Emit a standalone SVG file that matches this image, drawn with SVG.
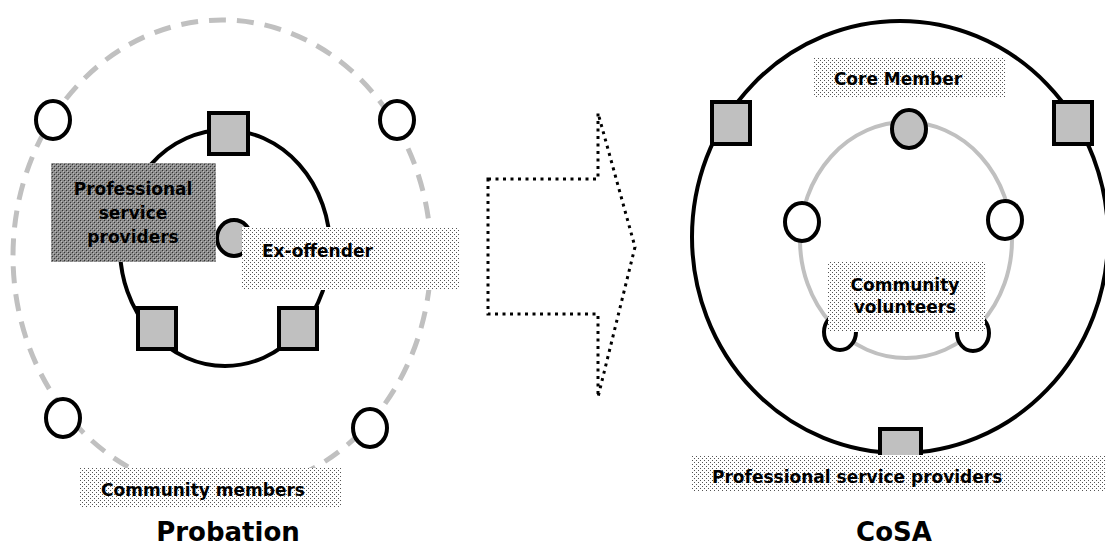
<svg xmlns="http://www.w3.org/2000/svg" width="1105" height="545" viewBox="0 0 1105 545">
<defs>
<pattern id="light" width="4" height="4" patternUnits="userSpaceOnUse">
<rect width="4" height="4" fill="#ffffff"/>
<rect x="0" y="0" width="1" height="1" fill="#555"/>
<rect x="2" y="2" width="1" height="1" fill="#555"/>
</pattern>
<pattern id="dark" width="4" height="4" patternUnits="userSpaceOnUse">
<rect width="4" height="4" fill="#8c8c8c"/>
<rect x="0" y="0" width="1" height="1" fill="#333"/>
<rect x="2" y="2" width="1" height="1" fill="#333"/>
<rect x="1" y="1" width="1" height="1" fill="#bbb"/>
<rect x="3" y="3" width="1" height="1" fill="#bbb"/>
</pattern>
<style>
.t{font-family:"DejaVu Sans","Liberation Sans",sans-serif;font-weight:bold;font-size:17px;fill:#000}
.title{font-family:"DejaVu Sans","Liberation Sans",sans-serif;font-weight:bold;font-size:26px;fill:#000}
.sq{fill:#c0c0c0;stroke:#000;stroke-width:4}
.wc{fill:#fff;stroke:#000;stroke-width:4}
.gc{fill:#c0c0c0;stroke:#000;stroke-width:4}
.lb{fill:url(#light)}
.db{fill:url(#dark)}
</style>
</defs>

<!-- Left panel: Probation -->
<g id="probation-outer">
<ellipse cx="222" cy="256" rx="209" ry="236" fill="none" stroke="#c0c0c0" stroke-width="5" stroke-dasharray="17 11"/>
</g>
<g id="probation-inner">
<ellipse cx="225" cy="248" rx="105" ry="118" fill="none" stroke="#000" stroke-width="4"/>
</g>
<g id="community-member-1"><ellipse class="wc" cx="53" cy="120" rx="17" ry="19"/></g>
<g id="community-member-2"><ellipse class="wc" cx="397" cy="120" rx="17" ry="19"/></g>
<g id="community-member-3"><ellipse class="wc" cx="63" cy="418" rx="17" ry="19"/></g>
<g id="community-member-4"><ellipse class="wc" cx="370" cy="428" rx="17" ry="19"/></g>
<g id="professional-1"><rect class="sq" x="209" y="113" width="39" height="41"/></g>
<g id="professional-2"><rect class="sq" x="138" y="308" width="38" height="41"/></g>
<g id="professional-3"><rect class="sq" x="279" y="308" width="38" height="41"/></g>
<g id="ex-offender-node"><ellipse class="gc" cx="234" cy="238" rx="17" ry="18"/></g>
<g id="label-professional-left">
<rect class="db" x="51" y="163" width="165" height="99"/>
<text class="t" x="133" y="195" text-anchor="middle">Professional</text>
<text class="t" x="133" y="219" text-anchor="middle">service</text>
<text class="t" x="133" y="243" text-anchor="middle">providers</text>
</g>
<g id="label-ex-offender">
<rect class="lb" x="242" y="227" width="218" height="63"/>
<text class="t" x="262" y="257">Ex-offender</text>
</g>
<g id="label-community-members">
<rect class="lb" x="80" y="468" width="262" height="40"/>
<text class="t" x="203" y="496" text-anchor="middle">Community members</text>
</g>
<g id="title-probation">
<text class="title" x="228" y="541" text-anchor="middle">Probation</text>
</g>

<!-- Connector: transition arrow -->
<g id="connectors">
<polygon points="488,179 598,179 598,113 635,247 598,397 598,314 488,314" fill="none" stroke="#000" stroke-width="3" stroke-dasharray="3 4.5" stroke-linejoin="miter"/>
</g>

<!-- Right panel: CoSA -->
<g id="cosa-outer">
<ellipse cx="900" cy="237" rx="208" ry="216" fill="none" stroke="#000" stroke-width="4"/>
</g>
<g id="cosa-inner">
<ellipse cx="906" cy="240" rx="106" ry="118" fill="none" stroke="#c0c0c0" stroke-width="4"/>
</g>
<g id="cosa-professional-1"><rect class="sq" x="712" y="102" width="38" height="42"/></g>
<g id="cosa-professional-2"><rect class="sq" x="1054" y="102" width="38" height="42"/></g>
<g id="cosa-professional-3"><rect class="sq" x="880" y="429" width="41" height="40"/></g>
<g id="core-member-node"><ellipse class="gc" cx="909" cy="129" rx="17" ry="19"/></g>
<g id="volunteer-1"><ellipse class="wc" cx="802" cy="222" rx="17" ry="19"/></g>
<g id="volunteer-2"><ellipse class="wc" cx="1005" cy="220" rx="17" ry="19"/></g>
<g id="volunteer-3"><ellipse class="wc" cx="840" cy="332" rx="16" ry="18"/></g>
<g id="volunteer-4"><ellipse class="wc" cx="973" cy="333" rx="16" ry="18"/></g>
<g id="label-core-member">
<rect class="lb" x="813" y="58" width="192" height="40"/>
<text class="t" x="898" y="85" text-anchor="middle">Core Member</text>
</g>
<g id="label-community-volunteers">
<rect class="lb" x="828" y="262" width="157" height="70"/>
<text class="t" x="905" y="291" text-anchor="middle">Community</text>
<text class="t" x="905" y="313" text-anchor="middle">volunteers</text>
</g>
<g id="label-professional-right">
<rect class="lb" x="692" y="455" width="413" height="37"/>
<text class="t" x="712" y="483">Professional service providers</text>
</g>
<g id="title-cosa">
<text class="title" x="894" y="541" text-anchor="middle">CoSA</text>
</g>
</svg>
